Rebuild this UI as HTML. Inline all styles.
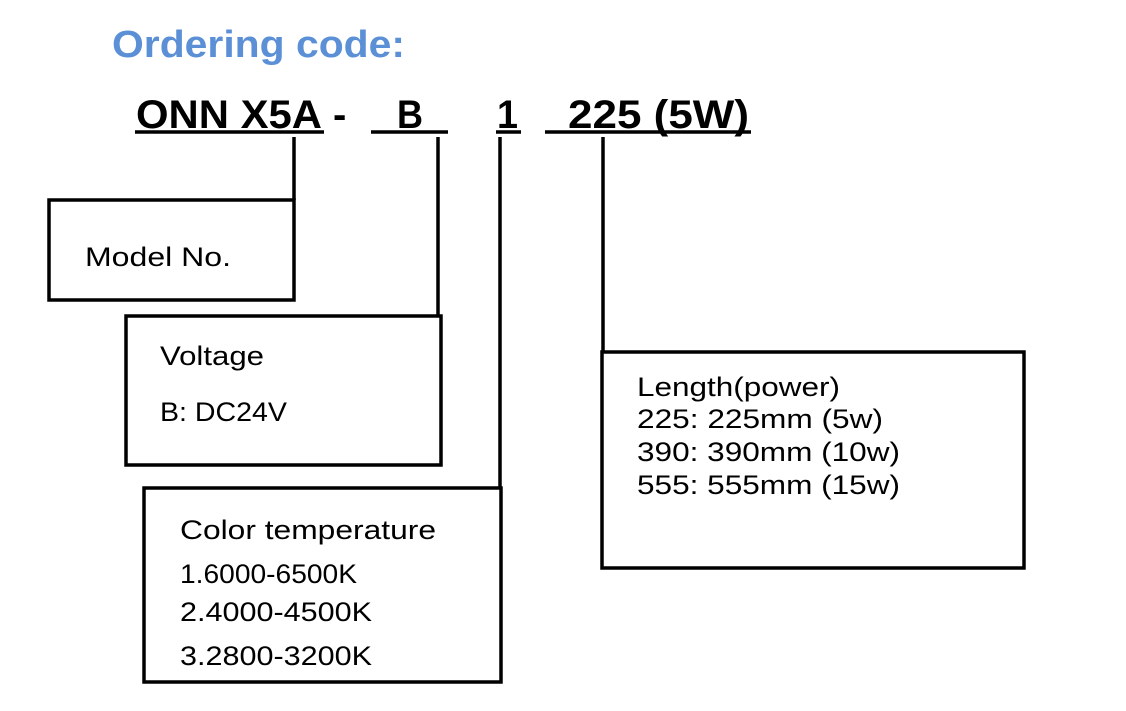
<!DOCTYPE html>
<html><head><style>body{margin:0;background:#fff}svg{display:block}</style></head><body>
<svg width="1126" height="711" viewBox="0 0 1126 711" xmlns="http://www.w3.org/2000/svg">
<g font-family="Liberation Sans, sans-serif">
<text x="112" y="57" font-size="38" font-weight="bold" fill="#5b8fd6" textLength="293" lengthAdjust="spacingAndGlyphs">Ordering code:</text>
<g font-size="40" font-weight="bold" fill="#000">
<text x="136" y="128" textLength="186" lengthAdjust="spacingAndGlyphs">ONN X5A</text>
<text x="333" y="128">-</text>
<text x="397" y="128" textLength="26" lengthAdjust="spacingAndGlyphs">B</text>
<text x="497" y="128" textLength="21" lengthAdjust="spacingAndGlyphs">1</text>
<text x="568" y="128" textLength="181" lengthAdjust="spacingAndGlyphs">225 (5W)</text>
</g>
<g font-size="27" fill="#000">
<text x="85" y="266" textLength="146" lengthAdjust="spacingAndGlyphs">Model No.</text>
<text x="160" y="365" textLength="104" lengthAdjust="spacingAndGlyphs">Voltage</text>
<text x="160" y="421" textLength="127" lengthAdjust="spacingAndGlyphs">B: DC24V</text>
<text x="180" y="539" textLength="256" lengthAdjust="spacingAndGlyphs">Color temperature</text>
<text x="180" y="583" textLength="177" lengthAdjust="spacingAndGlyphs">1.6000-6500K</text>
<text x="180" y="621" textLength="192" lengthAdjust="spacingAndGlyphs">2.4000-4500K</text>
<text x="180" y="665" textLength="192" lengthAdjust="spacingAndGlyphs">3.2800-3200K</text>
<text x="637" y="396" textLength="203" lengthAdjust="spacingAndGlyphs">Length(power)</text>
<text x="637" y="428" textLength="246" lengthAdjust="spacingAndGlyphs">225: 225mm (5w)</text>
<text x="637" y="461" textLength="263" lengthAdjust="spacingAndGlyphs">390: 390mm (10w)</text>
<text x="637" y="494" textLength="263" lengthAdjust="spacingAndGlyphs">555: 555mm (15w)</text>
</g>
</g>
<g stroke="#000" stroke-width="3.5" fill="none">
<line x1="135" y1="132" x2="324" y2="132"/>
<line x1="371" y1="132" x2="448" y2="132"/>
<line x1="496" y1="132" x2="521" y2="132"/>
<line x1="545" y1="132" x2="751" y2="132"/>
<line x1="294" y1="137" x2="294" y2="200"/>
<rect x="49" y="200" width="245" height="100"/>
<line x1="438" y1="137" x2="438" y2="316"/>
<rect x="126" y="316" width="315" height="149"/>
<line x1="500" y1="137" x2="500" y2="488"/>
<rect x="144" y="488" width="357" height="194"/>
<line x1="603" y1="137" x2="603" y2="352"/>
<rect x="602" y="352" width="422" height="216"/>
</g>
</svg>
</body></html>
